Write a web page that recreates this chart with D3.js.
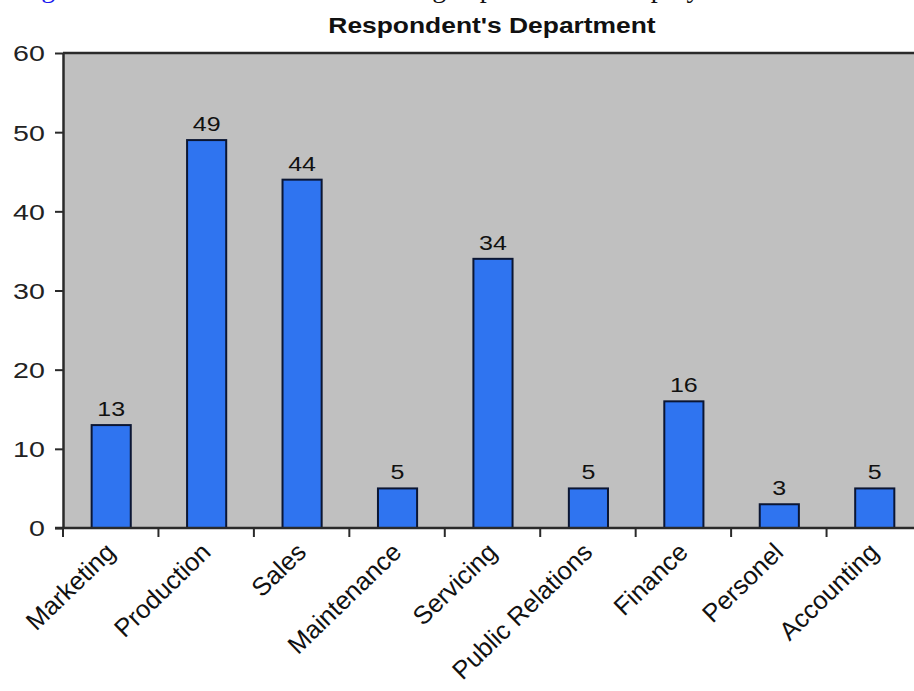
<!DOCTYPE html>
<html>
<head>
<meta charset="utf-8">
<script src="https://cdn.jsdelivr.net/npm/d3@7"></script>
<style>
  html, body { margin: 0; padding: 0; background: #fff; }
  svg { display: block; }
</style>
</head>
<body>
<svg id="chart" width="914" height="691"></svg>
<script>
const categories = ["Marketing", "Production", "Sales", "Maintenance", "Servicing", "Public Relations", "Finance", "Personel", "Accounting"];
const values = [13, 49, 44, 5, 34, 5, 16, 3, 5];
const yTicks = [0, 10, 20, 30, 40, 50, 60];
const title = "Respondent's Department";

(function () {
const svg = d3.select("#chart");
const plotLeft = 63, plotRight = 922, plotTop = 53, plotBottom = 528;

const x = d3.scaleBand().domain(categories).range([plotLeft, plotRight]).padding(0);
const y = d3.scaleLinear().domain([0, 60]).range([plotBottom, plotTop]);
const bw = x.bandwidth();

// clipped caption line above the figure
const cap = svg.append("g").attr("font-family", "'Liberation Serif', 'Times New Roman', serif").attr("font-size", 28);
cap.append("text").attr("x", 18).attr("y", -3).attr("fill", "#1a1aee").text("Figure 3.1");
cap.append("text").attr("x", 349).attr("y", -3).attr("fill", "#111").text("Working department of employees");

// plot background
svg.append("rect").attr("x", plotLeft).attr("y", plotTop).attr("width", plotRight - plotLeft).attr("height", plotBottom - plotTop).attr("fill", "#c0c0c0");

// top border
svg.append("line").attr("x1", plotLeft).attr("x2", plotRight).attr("y1", plotTop).attr("y2", plotTop).attr("stroke", "#2a2a2a").attr("stroke-width", 2.5);

// bars
svg.append("g").selectAll("rect").data(categories).join("rect")
  .attr("x", d => x(d) + bw * 0.3)
  .attr("y", (d, i) => y(values[i]))
  .attr("width", bw * 0.41)
  .attr("height", (d, i) => y(0) - y(values[i]))
  .attr("fill", "#2f74f0")
  .attr("stroke", "#0b1633")
  .attr("stroke-width", 2);

// value labels
svg.append("g").selectAll("text").data(categories).join("text")
  .attr("transform", (d, i) => `translate(${x(d) + bw * 0.505},${y(values[i]) - 9}) scale(1.25,1)`)
  .attr("text-anchor", "middle")
  .attr("font-family", "'Liberation Sans', Arial, sans-serif")
  .attr("font-size", 20)
  .attr("fill", "#111")
  .text((d, i) => values[i]);

// y axis
const yAxis = svg.append("g").attr("transform", `translate(${plotLeft},0)`)
  .call(d3.axisLeft(y).tickValues(yTicks).tickSize(8).tickSizeOuter(0));
yAxis.select(".domain").attr("stroke", "#2a2a2a").attr("stroke-width", 2.5);
yAxis.selectAll(".tick line").attr("stroke", "#2a2a2a").attr("stroke-width", 2);
yAxis.selectAll(".tick text")
  .attr("x", -14).attr("dy", "0.36em")
  .attr("transform", "scale(1.3,1)")
  .attr("font-family", "'Liberation Sans', Arial, sans-serif")
  .attr("font-size", 22)
  .attr("fill", "#222");

// x axis line
svg.append("line").attr("x1", plotLeft - 8).attr("x2", plotRight).attr("y1", plotBottom).attr("y2", plotBottom).attr("stroke", "#2a2a2a").attr("stroke-width", 2.5);
// boundary ticks
svg.append("g").selectAll("line").data(categories.map(d => x(d)).concat([plotRight])).join("line")
  .attr("x1", d => d).attr("x2", d => d)
  .attr("y1", plotBottom).attr("y2", plotBottom + 9)
  .attr("stroke", "#2a2a2a").attr("stroke-width", 2);

// x labels
svg.append("g").selectAll("text").data(categories).join("text")
  .attr("transform", d => `translate(${x(d) + bw / 2 + 6},${plotBottom + 26}) rotate(-44)`)
  .attr("text-anchor", "end")
  .attr("font-family", "'Liberation Sans', Arial, sans-serif")
  .attr("font-size", 25.5)
  .attr("fill", "#111")
  .text(d => d);

// title
svg.append("text")
  .attr("transform", "translate(492,33) scale(1.2,1)")
  .attr("text-anchor", "middle")
  .attr("font-family", "'Liberation Sans', Arial, sans-serif")
  .attr("font-weight", "bold")
  .attr("font-size", 22)
  .attr("fill", "#111")
  .text(title);
})();
</script>
</body>
</html>
